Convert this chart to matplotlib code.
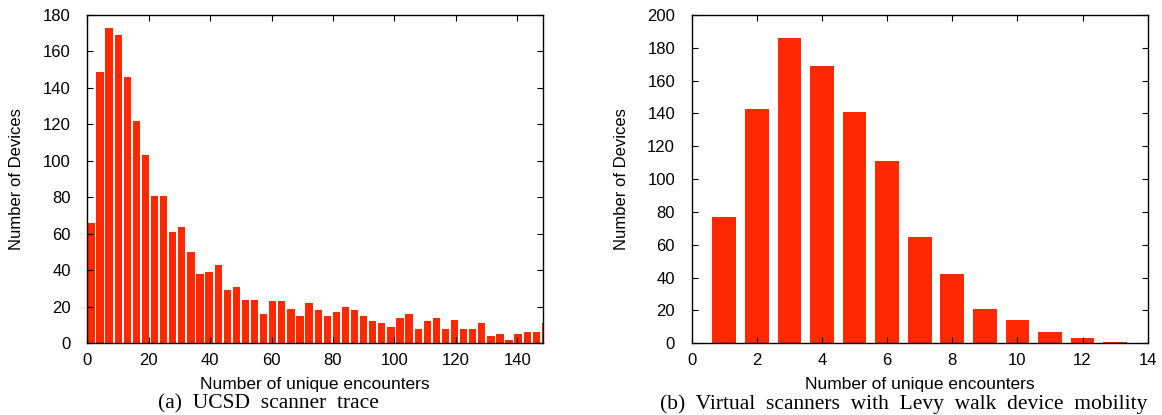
import matplotlib.pyplot as plt
import numpy as np

# Left panel: UCSD scanner trace histogram (bin width ~3 encounters)
ucsd_counts = [66, 149, 173, 169, 146, 122, 103, 81, 81, 61,
               64, 50, 38, 39, 43, 29, 31, 24, 24, 16,
               23, 23, 19, 15, 22, 18, 15, 17, 20, 18,
               15, 12, 11, 9, 14, 16, 8, 12, 14, 8,
               13, 8, 8, 11, 4, 5, 2, 5, 6, 6, 11]
ucsd_bin = 2.96

# Right panel: virtual scanners with Levy walk mobility
levy_encounters = [1, 2, 3, 4, 5, 6, 7, 8, 9, 10, 11, 12, 13]
levy_counts = [77, 143, 186, 169, 141, 111, 65, 42, 21, 14, 7, 3, 1]

BAR_COLOR = "#ff2800"
LABEL_FONT = ["Liberation Sans", "DejaVu Sans"]
CAPTION_FONT = ["Liberation Serif", "DejaVu Serif"]

plt.rcParams["font.family"] = LABEL_FONT
plt.rcParams["font.size"] = 12

fig = plt.figure(figsize=(11.62, 4.15), dpi=100)
W, H = 1162, 415


def add_axes(x0, x1, y0, y1):
    return fig.add_axes([x0 / W, 1 - y1 / H, (x1 - x0) / W, (y1 - y0) / H])


def style_axes(ax, ylabel_x):
    ax.tick_params(direction="in", length=4, width=0.8, top=True, right=True,
                   labelsize=12, colors="black")
    ax.tick_params(axis="y", pad=12)
    ax.tick_params(axis="x", pad=7)
    for spine in ax.spines.values():
        spine.set_linewidth(1.0)
    ax.set_ylabel("Number of Devices", fontsize=12, va="center")
    ax.yaxis.set_label_coords(ylabel_x, 0.5)
    ax.set_xlabel("Number of unique encounters", fontsize=12.5, va="center")
    ax.xaxis.set_label_coords(0.5, -(384 - 343.3) / 328.3)


# (a) UCSD scanner trace
ax1 = add_axes(87.3, 543.3, 15, 343.3)
left_edges = np.arange(len(ucsd_counts)) * ucsd_bin
ax1.bar(left_edges, ucsd_counts, width=ucsd_bin * 0.8, align="edge",
        color=BAR_COLOR, edgecolor="none")
ax1.set_xlim(0, 148.5)
ax1.set_ylim(0, 180)
ax1.set_xticks(range(0, 141, 20))
ax1.set_yticks(range(0, 181, 20))
style_axes(ax1, (16 - 87.3) / 456)
fig.text(268 / W, 1 - 404 / H, "(a)  UCSD  scanner  trace", ha="center", va="center",
         family=CAPTION_FONT, fontsize=15.5)

# (b) Virtual scanners with Levy walk device mobility
ax2 = add_axes(691.7, 1147.7, 15, 343.3)
ax2.bar(levy_encounters, levy_counts, width=0.73, color=BAR_COLOR, edgecolor="none")
ax2.set_xlim(0, 14)
ax2.set_ylim(0, 200)
ax2.set_xticks(range(0, 15, 2))
ax2.set_yticks(range(0, 201, 20))
style_axes(ax2, (622 - 691.7) / 456)
fig.text(904 / W, 1 - 404 / H,
         "(b)  Virtual  scanners  with  Levy  walk  device  mobility",
         ha="center", va="center", family=CAPTION_FONT, fontsize=15.5)

fig.savefig("out.png", dpi=100)
